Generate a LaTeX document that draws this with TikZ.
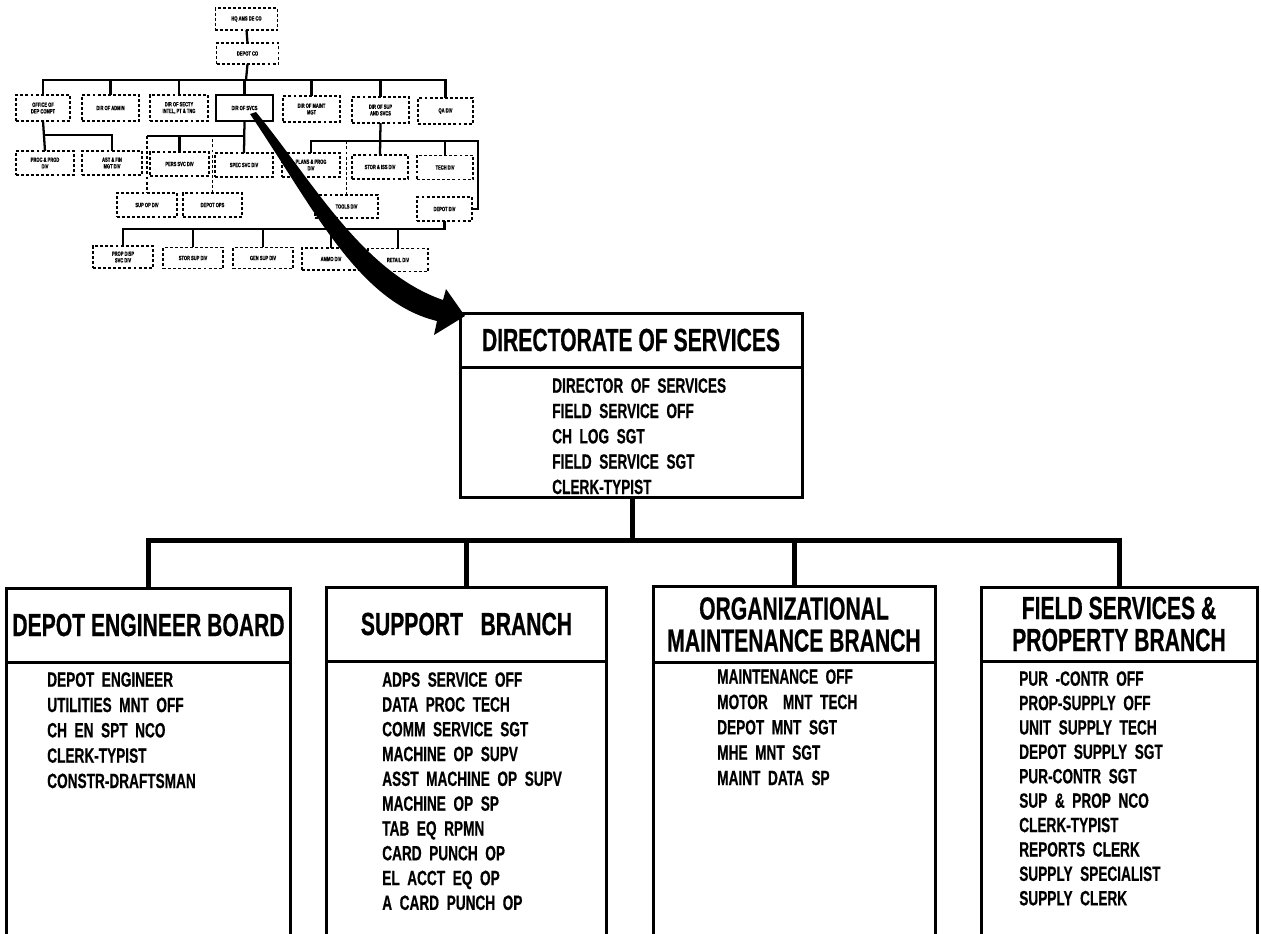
\documentclass[tikz,border=0pt]{standalone}
\usepackage{fontspec}
\newfontfamily\condb{Liberation Sans Bold}[FakeStretch=0.66, FakeBold=0.5]
\begin{document}
\begin{tikzpicture}[x=0.75pt,y=-0.75pt]
\tikzset{
  bx/.style={draw, line width=2.25pt, outer sep=0pt},
  ttlbox/.style={draw, line width=2.25pt, outer sep=0pt, inner sep=0pt, align=center,
     font=\condb\fontsize{24}{24}\selectfont},
  itm/.style={anchor=north west, inner sep=0pt, align=left,
     font=\condb\fontsize{15.5}{19}\selectfont},
  bus/.style={line width=3.75pt},
  sbox/.style={draw, line width=0.9pt, dash pattern=on 2.2pt off 1.6pt, inner sep=0pt, outer sep=0pt,
     align=center, font=\condb\fontsize{4.6}{5}\selectfont},
  sboxs/.style={draw, line width=1.5pt, inner sep=0pt, outer sep=0pt,
     align=center, font=\condb\fontsize{4.6}{5}\selectfont},
  sl/.style={line width=1.7pt},
  sld/.style={line width=1.3pt, dash pattern=on 2.2pt off 1.6pt},
}
\useasboundingbox (0,0) rectangle (1261,933);
\fill[white] (0,0) rectangle (1261,933);

% ---------- small chart ----------
\node[sbox, minimum width=47pt, minimum height=16.5pt] (hq) at (246.5,19) {HQ AMS DE CO};
\node[sbox, minimum width=46pt, minimum height=15.8pt] (co) at (247.5,53.5) {DEPOT CO};
\node[sbox, minimum width=40.5pt, minimum height=19.5pt] (r1) at (43,108) {OFFICE OF\\DEP COMPT};
\node[sbox, minimum width=42.8pt, minimum height=19.5pt] (r2) at (110.5,108) {DIR OF ADMIN};
\node[sbox, minimum width=43.5pt, minimum height=19.5pt] (r3) at (179,108) {DIR OF SECTY\\INTEL, PT \& TNG};
\node[sboxs, minimum width=42.8pt, minimum height=19.5pt] (r4) at (244.5,108) {DIR OF SVCS};
\node[sbox, minimum width=42.8pt, minimum height=19.5pt] (r5) at (311.5,109) {DIR OF MAINT\\MGT};
\node[sbox, minimum width=42.8pt, minimum height=19.5pt] (r6) at (380.5,110) {DIR OF SUP\\AND SVCS};
\node[sbox, minimum width=41.3pt, minimum height=19.5pt] (r7) at (445.5,111) {QA DIV};

\node[sbox, minimum width=43.5pt, minimum height=18pt] (a) at (45,163) {PROC \& PROD\\DIV};
\node[sbox, minimum width=45pt, minimum height=18pt] (b) at (112,163) {AST \& FIN\\MGT DIV};
\node[sbox, minimum width=44.3pt, minimum height=18pt] (c) at (179.5,164) {PERS SVC DIV};
\node[sbox, minimum width=43.5pt, minimum height=18pt] (d) at (244,165) {SPEC SVC DIV};
\node[sbox, minimum width=43.5pt, minimum height=18pt] (e) at (311,165) {PLANS \& PROG\\DIV};
\node[sbox, minimum width=42pt, minimum height=18pt] (f) at (380,167) {STOR \& ISS DIV};
\node[sbox, minimum width=42pt, minimum height=18.5pt] (g) at (445,167.5) {TECH DIV};

\node[sbox, minimum width=45pt, minimum height=18pt] (h) at (147,205) {SUP OP DIV};
\node[sbox, minimum width=44.3pt, minimum height=18pt] (i) at (212.5,205) {DEPOT OPS};
\node[sbox, minimum width=47.3pt, minimum height=17.3pt] (j) at (346.5,206.5) {TOOLS DIV};
\node[sbox, minimum width=41.3pt, minimum height=18pt] (k) at (444.5,209) {DEPOT DIV};

\node[sbox, minimum width=45pt, minimum height=16.5pt] (l) at (123,257) {PROP DISP\\SVC DIV};
\node[sbox, minimum width=45pt, minimum height=16pt] (m) at (193,258) {STOR SUP DIV};
\node[sbox, minimum width=45pt, minimum height=16pt] (n) at (263,258) {GEN SUP DIV};
\node[sbox, minimum width=43.5pt, minimum height=16.5pt] (o) at (331,259) {AMMO DIV};
\node[sbox, minimum width=45pt, minimum height=17pt] (p) at (398,260) {RETAIL DIV};

\coordinate (b1) at (246,80);
\coordinate (b2) at (0,135);
\coordinate (b3) at (0,136);
\coordinate (b4) at (478,141);
\coordinate (b5) at (0,229);

\draw[sl] (hq.south) -- (co.north);
\draw[sl] (co.south) -- (b1);
\draw[sl] (r1.north) -- (r1.north |- b1) -- (r7.north |- b1) -- (r7.north);
\foreach \n in {r2,r3,r4,r5,r6} \draw[sl] (\n.north) -- (\n.north |- b1);

\draw[sl] (r1.south) -- (a.north);
\draw[sl] (a.north |- b2) -- (b.north |- b2) -- (b.north);

\draw[sl] (r4.south) -- (d.north);
\draw[sl] (r4.south |- b3) -- (h.north |- b3);
\draw[sld] (h.north |- b3) -- (h.north);
\draw[sl] (c.north) -- (c.north |- b3);
\draw[sld] (i.north) -- (i.north |- b3);

\draw[sl] (r6.south) -- (f.north);
\draw[sl] (e.north) -- (e.north |- b4) -- (b4) -- (b4 |- k.east) -- (k.east);
\draw[sld] (j.north) -- (j.north |- b4);
\draw[sl] (g.north) -- (g.north |- b4);

\draw[sl] (k.south) -- (k.south |- b5) -- (l.north |- b5) -- (l.north);
\foreach \n in {m,n,o,p} \draw[sl] (\n.north) -- (\n.north |- b5);

% ---------- big arrow ----------
\fill[black] (256,112) .. controls (312,180) and (362,272) .. (443,300)
   -- (446,289) -- (465,316) -- (434,335) -- (437,321)
   .. controls (358,302) and (313,207) .. (250,114) -- cycle;

% ---------- directorate ----------
\node[ttlbox, minimum width=256.5pt, minimum height=40.5pt] (dirT) at (631,340) {DIRECTORATE OF SERVICES};
\node[bx, inner sep=0pt, minimum width=256.5pt, minimum height=97.5pt, anchor=north] (dirB) at (dirT.south) {};
\node[itm] (dirI) at (552,378) {DIRECTOR\ \ OF\ \ SERVICES\\FIELD\ \ SERVICE\ \ OFF\\CH\ \ LOG\ \ SGT\\FIELD\ \ SERVICE\ \ SGT\\CLERK-TYPIST};

% ---------- branches ----------
\node[ttlbox, minimum width=212.3pt, minimum height=55.5pt] (depT) at (148.5,625) {DEPOT ENGINEER BOARD};
\node[ttlbox, minimum width=209.3pt, minimum height=55.5pt] (supT) at (466.5,624) {SUPPORT\ \ \ BRANCH};
\node[ttlbox, minimum width=211.5pt, minimum height=56.3pt] (orgT) at (794,624.5) {ORGANIZATIONAL\\MAINTENANCE BRANCH};
\node[ttlbox, minimum width=207pt, minimum height=55.5pt] (fldT) at (1119,624) {FIELD SERVICES \&\\PROPERTY BRANCH};

\foreach \n in {depT,supT,orgT,fldT}
  \draw[line width=2.25pt] (\n.south west) -- ([yshift=-300pt]\n.south west)
        (\n.south east) -- ([yshift=-300pt]\n.south east);

\node[itm] (depI) at (47,672) {DEPOT\ \ ENGINEER\\UTILITIES\ \ MNT\ \ OFF\\CH\ \ EN\ \ SPT\ \ NCO\\CLERK-TYPIST\\CONSTR-DRAFTSMAN};
\node[itm, font=\condb\fontsize{15.5}{18.6}\selectfont] (supI) at (382,672) {ADPS\ \ SERVICE\ \ OFF\\DATA\ \ PROC\ \ TECH\\COMM\ \ SERVICE\ \ SGT\\MACHINE\ \ OP\ \ SUPV\\ASST\ \ MACHINE\ \ OP\ \ SUPV\\MACHINE\ \ OP\ \ SP\\TAB\ \ EQ\ \ RPMN\\CARD\ \ PUNCH\ \ OP\\EL\ \ ACCT\ \ EQ\ \ OP\\A\ \ CARD\ \ PUNCH\ \ OP};
\node[itm] (orgI) at (717,669) {MAINTENANCE\ \ OFF\\MOTOR\ \ \ \ MNT\ \ TECH\\DEPOT\ \ MNT\ \ SGT\\MHE\ \ MNT\ \ SGT\\MAINT\ \ DATA\ \ SP};
\node[itm, font=\condb\fontsize{15.5}{18.3}\selectfont] (fldI) at (1019,671) {PUR\ \ -CONTR\ \ OFF\\PROP-SUPPLY\ \ OFF\\UNIT\ \ SUPPLY\ \ TECH\\DEPOT\ \ SUPPLY\ \ SGT\\PUR-CONTR\ \ SGT\\SUP\ \ \&\ \ PROP\ \ NCO\\CLERK-TYPIST\\REPORTS\ \ CLERK\\SUPPLY\ \ SPECIALIST\\SUPPLY\ \ CLERK};

% ---------- connectors ----------
\coordinate (bus) at (632,540);
\draw[bus] (dirB.south -| bus) -- (bus);
\draw[bus] (depT.north) -- (depT.north |- bus) -- (fldT.north |- bus) -- (fldT.north);
\draw[bus] (supT.north) -- (supT.north |- bus);
\draw[bus] (orgT.north) -- (orgT.north |- bus);
\end{tikzpicture}
\end{document}
